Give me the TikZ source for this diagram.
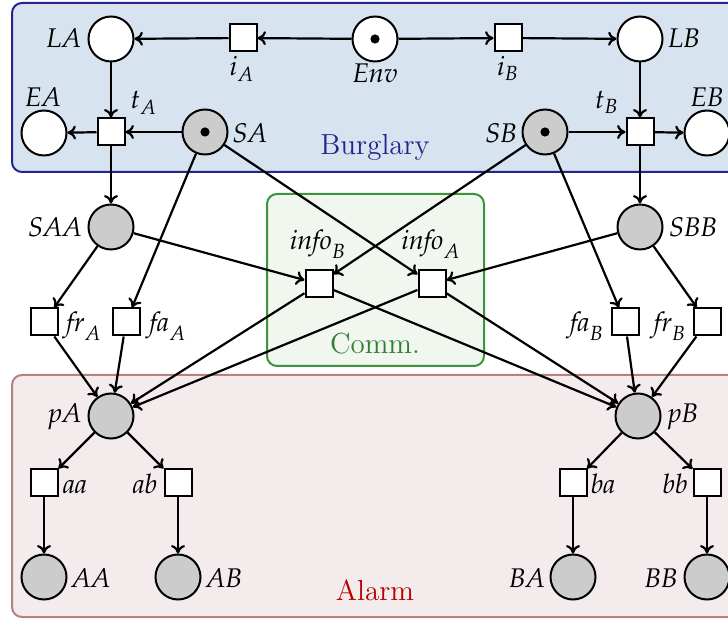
\documentclass[tikz,border=0pt]{standalone}
\usepackage{mathpazo}
\usetikzlibrary{arrows.meta}
\definecolor{bluefill}{HTML}{D7E3EF}
\definecolor{blueline}{HTML}{24248A}
\definecolor{greenfill}{HTML}{F1F6EF}
\definecolor{greenline}{HTML}{3A953A}
\definecolor{redfill}{HTML}{F3EBEC}
\definecolor{redline}{HTML}{B88080}
\definecolor{redtext}{HTML}{B80000}
\definecolor{placegray}{HTML}{CCCCCC}
\begin{document}
\begin{tikzpicture}[x=0.5pt,y=-0.5pt,
  place/.style={circle,draw,line width=1pt,minimum size=22.5pt,inner sep=0pt,fill=white},
  gplace/.style={place,fill=placegray},
  trans/.style={rectangle,draw,line width=1pt,minimum size=13.5pt,inner sep=0pt,fill=white},
  lbl/.style={anchor=base,inner sep=0pt,font=\fontsize{13.5}{16}\selectfont},
  ttl/.style={anchor=base,inner sep=0pt,font=\fontsize{14.5}{17}\selectfont},
  arc/.style={-{To[length=4.2pt,width=7pt]},line width=1.1pt},
  region/.style={rounded corners=5pt,line width=1pt}]
\useasboundingbox (0,0) rectangle (728,619);
% regions
\draw[region,fill=bluefill,draw=blueline] (12,3) rectangle (745,172);
\draw[region,fill=redfill,draw=redline] (12,375) rectangle (745,617);
\draw[region,fill=greenfill,draw=greenline] (267,194) rectangle (484,366);
\node[ttl,text=blueline] (tBurg) at (375,155) {Burglary};
\node[ttl,text=greenline!85!black] (tComm) at (375,354) {Comm.};
\node[ttl,text=redtext] (tAlarm) at (375,601) {Alarm};
% places and transitions
\node[place] (LA) at (111,39) {};
\node[trans] (iA) at (243,38) {};
\node[place] (Env) at (375,39) {};
\node[trans] (iB) at (508,38) {};
\node[place] (LB) at (640,39) {};
\node[place] (EA) at (44,133) {};
\node[trans] (tA) at (111,132) {};
\node[gplace] (SA) at (205,132) {};
\node[gplace] (SB) at (545,132) {};
\node[trans] (tB) at (640,132) {};
\node[place] (EB) at (707,133) {};
\node[gplace] (SAA) at (111,227) {};
\node[gplace] (SBB) at (640,227) {};
\node[trans] (infoB) at (319,284) {};
\node[trans] (infoA) at (432,284) {};
\node[trans] (frA) at (44,322) {};
\node[trans] (faA) at (126,322) {};
\node[trans] (faB) at (625,322) {};
\node[trans] (frB) at (707,322) {};
\node[gplace] (pA) at (111,416) {};
\node[gplace] (pB) at (638,416) {};
\node[trans] (aa) at (44,483) {};
\node[trans] (ab) at (178,483) {};
\node[trans] (ba) at (573,483) {};
\node[trans] (bb) at (707,483) {};
\node[gplace] (AA) at (44,577) {};
\node[gplace] (AB) at (178,577) {};
\node[gplace] (BA) at (573,577) {};
\node[gplace] (BB) at (707,577) {};
% tokens
\fill (Env.center) circle (2.3pt);
\fill (SA.center) circle (2.3pt);
\fill (SB.center) circle (2.3pt);
% labels
\node[lbl] (lLA) at (64,48) {$\mathit{LA}$};
\node[lbl] (liA) at (242,76) {$\mathit{i}_A$};
\node[lbl] (lEnv) at (375,83) {$\mathit{Env}$};
\node[lbl] (liB) at (508,76) {$\mathit{i}_B$};
\node[lbl] (lLB) at (684,48) {$\mathit{LB}$};
\node[lbl] (lEA) at (43,107) {$\mathit{EA}$};
\node[lbl] (ltA) at (144,109) {$\mathit{t}_A$};
\node[lbl] (lSA) at (250,143) {$\mathit{SA}$};
\node[lbl] (lSB) at (501,143) {$\mathit{SB}$};
\node[lbl] (ltB) at (607,109) {$\mathit{t}_B$};
\node[lbl] (lEB) at (707,107) {$\mathit{EB}$};
\node[lbl] (lSAA) at (55,237) {$\mathit{SAA}$};
\node[lbl] (lSBB) at (693,237) {$\mathit{SBB}$};
\node[lbl] (linfoB) at (318,250) {$\mathit{info}_B$};
\node[lbl] (linfoA) at (431,250) {$\mathit{info}_A$};
\node[lbl] (lfrA) at (84,332) {$\mathit{fr}_A$};
\node[lbl] (lfaA) at (168,332) {$\mathit{fa}_A$};
\node[lbl] (lfaB) at (587,332) {$\mathit{fa}_B$};
\node[lbl] (lfrB) at (670,332) {$\mathit{fr}_B$};
\node[lbl] (lpA) at (65,423) {$\mathit{pA}$};
\node[lbl] (lpB) at (683,423) {$\mathit{pB}$};
\node[lbl] (laa) at (75,494) {$\mathit{aa}$};
\node[lbl] (lab) at (145,494) {$\mathit{ab}$};
\node[lbl] (lba) at (603,494) {$\mathit{ba}$};
\node[lbl] (lbb) at (675,494) {$\mathit{bb}$};
\node[lbl] (lAA) at (91,588) {$\mathit{AA}$};
\node[lbl] (lAB) at (224,588) {$\mathit{AB}$};
\node[lbl] (lBA) at (527,588) {$\mathit{BA}$};
\node[lbl] (lBB) at (661,588) {$\mathit{BB}$};
% arcs
\draw[arc] (Env) -- (iA);
\draw[arc] (iA) -- (LA);
\draw[arc] (Env) -- (iB);
\draw[arc] (iB) -- (LB);
\draw[arc] (LA) -- (tA);
\draw[arc] (LB) -- (tB);
\draw[arc] (SA) -- (tA);
\draw[arc] (tA) -- (EA);
\draw[arc] (SB) -- (tB);
\draw[arc] (tB) -- (EB);
\draw[arc] (tA) -- (SAA);
\draw[arc] (tB) -- (SBB);
\draw[arc] (SAA) -- (frA);
\draw[arc] (SA) -- (faA);
\draw[arc] (SA) -- (infoA);
\draw[arc] (SAA) -- (infoB);
\draw[arc] (SB) -- (infoB);
\draw[arc] (SB) -- (faB);
\draw[arc] (SBB) -- (infoA);
\draw[arc] (SBB) -- (frB);
\draw[arc] (frA) -- (pA);
\draw[arc] (faA) -- (pA);
\draw[arc] (infoB) -- (pA);
\draw[arc] (infoA) -- (pA);
\draw[arc] (infoB) -- (pB);
\draw[arc] (infoA) -- (pB);
\draw[arc] (faB) -- (pB);
\draw[arc] (frB) -- (pB);
\draw[arc] (pA) -- (aa);
\draw[arc] (pA) -- (ab);
\draw[arc] (pB) -- (ba);
\draw[arc] (pB) -- (bb);
\draw[arc] (aa) -- (AA);
\draw[arc] (ab) -- (AB);
\draw[arc] (ba) -- (BA);
\draw[arc] (bb) -- (BB);
\end{tikzpicture}
\end{document}
